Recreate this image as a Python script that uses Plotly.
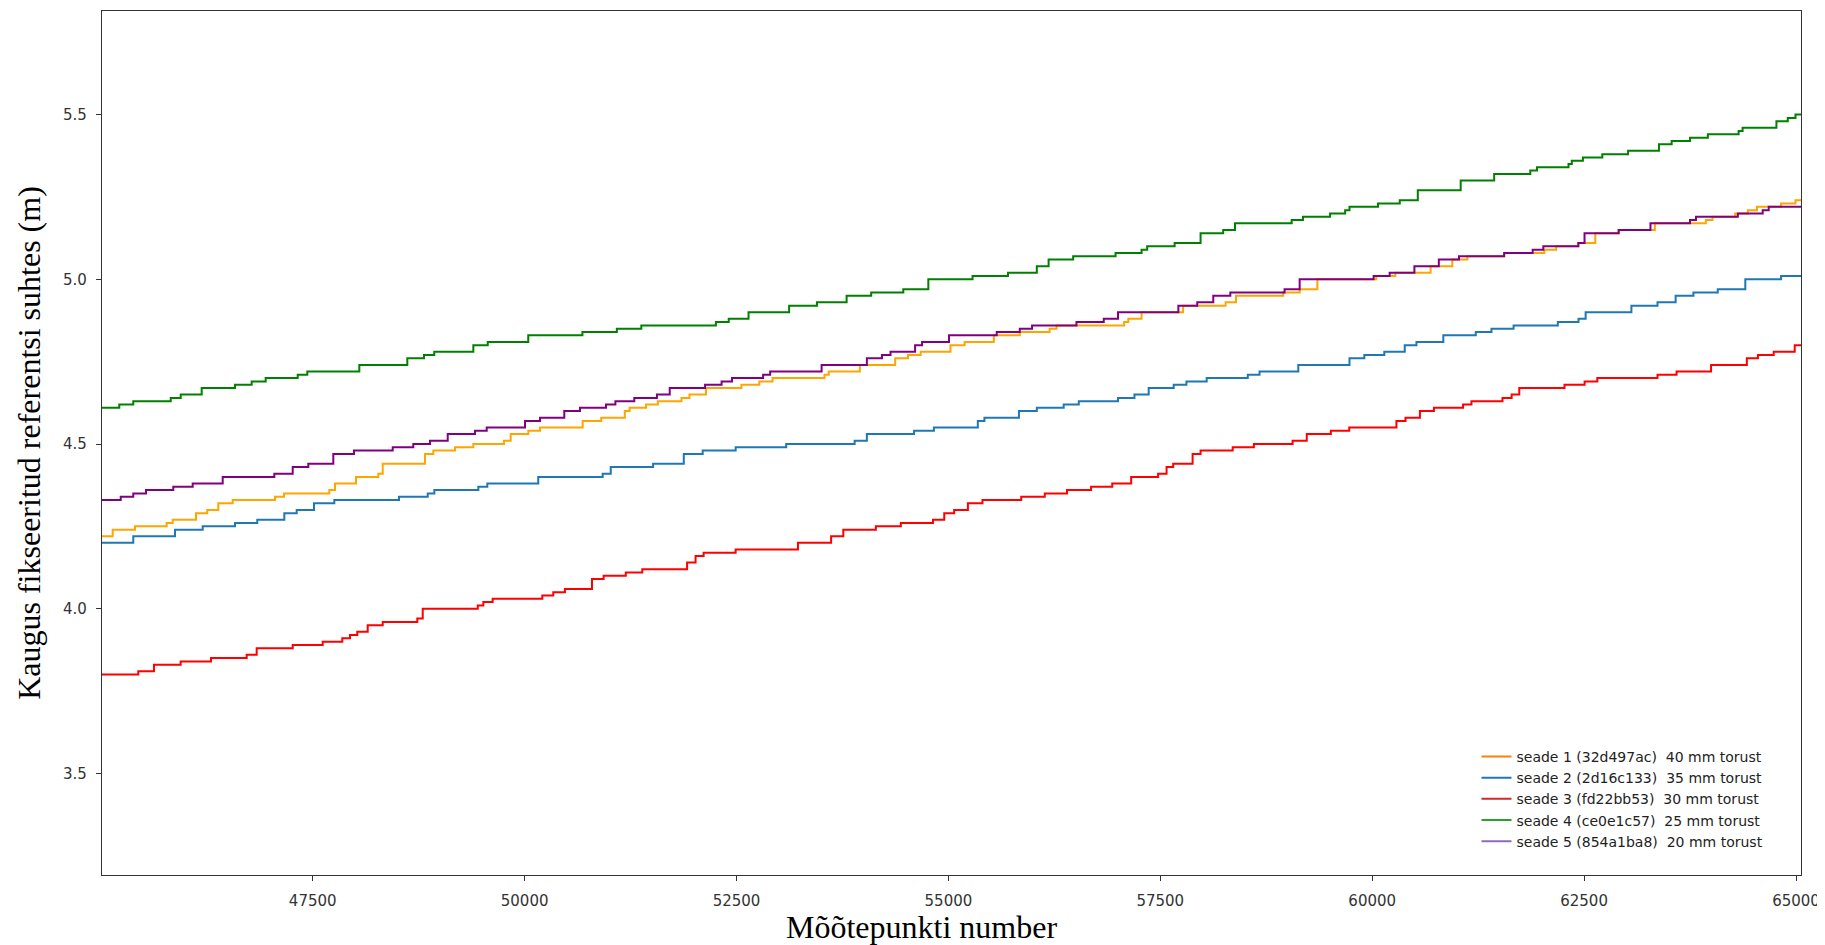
import plotly.graph_objects as go

# axis limits (data units)
x_lim = [45014, 65059]
y_lim = [3.1916, 5.8145]
x_ticks = [47500, 50000, 52500, 55000, 57500, 60000, 62500, 65000]
y_ticks = [3.5, 4.0, 4.5, 5.0, 5.5]

labels = [
    "seade 1 (32d497ac)\u00a0 40 mm torust",
    "seade 2 (2d16c133)\u00a0 35 mm torust",
    "seade 3 (fd22bb53)\u00a0 30 mm torust",
    "seade 4 (ce0e1c57)\u00a0 25 mm torust",
    "seade 5 (854a1ba8)\u00a0 20 mm torust",
]

# step start positions (x) and step values (y) for every series
s1_x = [45014, 45140, 45403, 45777, 45848, 46123, 46256, 46386, 46556, 47055, 47161, 47696, 47763, 48011,
        48274, 48326, 48825, 48923, 49179, 49395, 49757, 49836, 50044, 50182, 50685, 50904, 51182, 51239,
        51433, 51572, 51851, 51945, 52140, 52558, 52769, 52925, 53538, 53588, 53955, 54372, 54523, 54673,
        55024, 55191, 55536, 55842, 56194, 56276, 57073, 57123, 57279, 57769, 58270, 58393, 58950, 59145,
        59353, 60048, 60273, 60689, 60945, 61123, 61557, 62031, 62170, 62427, 62632, 62908, 63335, 63936,
        64015, 64283, 64432, 64540, 64824, 64994]
s1_y = [4.22, 4.24, 4.25, 4.26, 4.27, 4.29, 4.30, 4.32, 4.33, 4.34, 4.35, 4.36, 4.38, 4.40, 4.41, 4.44,
        4.47, 4.48, 4.49, 4.50, 4.51, 4.53, 4.54, 4.55, 4.57, 4.58, 4.60, 4.61, 4.62, 4.63, 4.64, 4.65,
        4.67, 4.68, 4.69, 4.70, 4.71, 4.72, 4.74, 4.76, 4.77, 4.78, 4.80, 4.81, 4.83, 4.84, 4.85, 4.86,
        4.87, 4.88, 4.90, 4.92, 4.93, 4.95, 4.96, 4.97, 5.00, 5.01, 5.02, 5.04, 5.06, 5.07, 5.08, 5.09,
        5.10, 5.11, 5.14, 5.15, 5.17, 5.18, 5.19, 5.20, 5.21, 5.22, 5.23, 5.24]

s2_x = [45014, 45383, 45875, 46202, 46583, 46846, 47165, 47311, 47515, 47755, 48518, 48857, 48935, 49454,
        49560, 50161, 50921, 51016, 51516, 51878, 52101, 52490, 53086, 53894, 54038, 54595, 54829, 55347,
        55425, 55832, 56043, 56360, 56538, 57001, 57195, 57363, 57658, 57808, 58047, 58532, 58671, 59128,
        59732, 59907, 60143, 60384, 60522, 60839, 61222, 61407, 61668, 62190, 62434, 62518, 63058, 63366,
        63580, 63790, 64077, 64402, 64824]
s2_y = [4.20, 4.22, 4.24, 4.25, 4.26, 4.27, 4.29, 4.30, 4.32, 4.33, 4.34, 4.35, 4.36, 4.37, 4.38, 4.40,
        4.41, 4.43, 4.44, 4.47, 4.48, 4.49, 4.50, 4.51, 4.53, 4.54, 4.55, 4.57, 4.58, 4.60, 4.61, 4.62,
        4.63, 4.64, 4.65, 4.67, 4.68, 4.69, 4.70, 4.71, 4.72, 4.74, 4.76, 4.77, 4.78, 4.80, 4.81, 4.83,
        4.84, 4.85, 4.86, 4.87, 4.88, 4.90, 4.92, 4.93, 4.95, 4.96, 4.97, 5.00, 5.01]

s3_x = [45014, 45442, 45627, 45942, 46300, 46721, 46839, 47264, 47618, 47849, 47940, 48026, 48149, 48326,
        48734, 48798, 49447, 49513, 49623, 50209, 50338, 50476, 50795, 50932, 51194, 51388, 51917, 52017,
        52112, 52490, 53225, 53616, 53760, 54144, 54439, 54818, 54951, 55068, 55230, 55402, 55859, 56137,
        56399, 56683, 56933, 57156, 57474, 57574, 57652, 57881, 57975, 58354, 58604, 59061, 59228, 59512,
        59729, 60286, 60393, 60563, 60728, 61072, 61171, 61537, 61645, 61735, 62269, 62506, 62656, 63366,
        63591, 63998, 64420, 64551, 64737, 64985]
s3_y = [3.80, 3.81, 3.83, 3.84, 3.85, 3.86, 3.88, 3.89, 3.90, 3.91, 3.92, 3.93, 3.95, 3.96, 3.97, 4.00,
        4.01, 4.02, 4.03, 4.04, 4.05, 4.06, 4.09, 4.10, 4.11, 4.12, 4.14, 4.16, 4.17, 4.18, 4.20, 4.22,
        4.24, 4.25, 4.26, 4.27, 4.29, 4.30, 4.32, 4.33, 4.34, 4.35, 4.36, 4.37, 4.38, 4.40, 4.41, 4.43,
        4.44, 4.47, 4.48, 4.49, 4.50, 4.51, 4.53, 4.54, 4.55, 4.57, 4.58, 4.60, 4.61, 4.62, 4.63, 4.64,
        4.65, 4.67, 4.68, 4.69, 4.70, 4.71, 4.72, 4.74, 4.76, 4.77, 4.78, 4.80]

s4_x = [45014, 45218, 45383, 45825, 45943, 46190, 46583, 46780, 46945, 47323, 47436, 48050, 48616, 48813,
        48934, 49395, 49565, 50043, 50682, 51088, 51377, 52257, 52408, 52642, 53121, 53449, 53799, 54089,
        54468, 54763, 55285, 55703, 56043, 56182, 56472, 56972, 57279, 57345, 57669, 57975, 58242, 58381,
        59050, 59183, 59503, 59681, 59732, 60068, 60325, 60538, 61044, 61439, 61865, 61944, 62316, 62355,
        62486, 62715, 63019, 63383, 63533, 63750, 63960, 64323, 64370, 64769, 64903, 64994]
s4_y = [4.61, 4.62, 4.63, 4.64, 4.65, 4.67, 4.68, 4.69, 4.70, 4.71, 4.72, 4.74, 4.76, 4.77, 4.78, 4.80,
        4.81, 4.83, 4.84, 4.85, 4.86, 4.87, 4.88, 4.90, 4.92, 4.93, 4.95, 4.96, 4.97, 5.00, 5.01, 5.02,
        5.04, 5.06, 5.07, 5.08, 5.09, 5.10, 5.11, 5.14, 5.15, 5.17, 5.18, 5.19, 5.20, 5.21, 5.22, 5.23,
        5.24, 5.27, 5.30, 5.32, 5.33, 5.34, 5.35, 5.36, 5.37, 5.38, 5.39, 5.41, 5.42, 5.43, 5.44, 5.45,
        5.46, 5.48, 5.49, 5.50]

s5_x = [45014, 45235, 45383, 45533, 45855, 46084, 46438, 47047, 47264, 47448, 47743, 47987, 48444, 48687,
        48884, 49093, 49415, 49553, 50005, 50182, 50468, 50653, 50960, 51071, 51294, 51561, 51712, 52129,
        52324, 52447, 52814, 52897, 53504, 54038, 54216, 54317, 54607, 54689, 55007, 55570, 55842, 55987,
        56511, 56833, 57001, 57713, 57936, 58125, 58326, 58966, 59144, 60017, 60206, 60498, 60786, 61024,
        61557, 61893, 62019, 62433, 62505, 62908, 63283, 63749, 63820, 64314, 64607, 64678]
s5_y = [4.33, 4.34, 4.35, 4.36, 4.37, 4.38, 4.40, 4.41, 4.43, 4.44, 4.47, 4.48, 4.49, 4.50, 4.51, 4.53,
        4.54, 4.55, 4.57, 4.58, 4.60, 4.61, 4.62, 4.63, 4.64, 4.65, 4.67, 4.68, 4.69, 4.70, 4.71, 4.72,
        4.74, 4.76, 4.77, 4.78, 4.80, 4.81, 4.83, 4.84, 4.85, 4.86, 4.87, 4.88, 4.90, 4.92, 4.93, 4.95,
        4.96, 4.97, 5.00, 5.01, 5.02, 5.04, 5.06, 5.07, 5.08, 5.09, 5.10, 5.11, 5.14, 5.15, 5.17, 5.18,
        5.19, 5.20, 5.21, 5.22]

series = [(s1_x, s1_y), (s2_x, s2_y), (s3_x, s3_y), (s4_x, s4_y), (s5_x, s5_y)]
line_colors = ["#FFA500", "#1f77b4", "#FF0000", "#008000", "#800080"]
legend_colors = ["#ff7f0e", "#1f77b4", "#d62728", "#2ca02c", "#9467bd"]

fig = go.Figure()
for (xs, ys), c, name in zip(series, line_colors, labels):
    fig.add_trace(go.Scatter(
        x=list(xs) + [x_lim[1]], y=list(ys) + [ys[-1]],
        mode="lines", line=dict(color=c, width=2, shape="hv"),
        name=name, showlegend=False, hoverinfo="x+y"))
for c, name in zip(legend_colors, labels):
    fig.add_trace(go.Scatter(x=[None], y=[None], mode="lines",
                             line=dict(color=c, width=2), name=name, showlegend=True))

axis_common = dict(showline=True, linecolor="#333333", linewidth=1.3, mirror=True,
                   ticks="outside", ticklen=5, tickcolor="#333333", tickwidth=1,
                   showgrid=False, zeroline=False, automargin=False,
                   tickfont=dict(family="DejaVu Sans", size=15, color="#333333"))

# the page body adds an 8px offset; the figure is sized so the plot lands where the reference has it
fig.update_layout(
    width=1817, height=937,
    margin=dict(l=94, r=24, t=3, b=70),
    paper_bgcolor="white", plot_bgcolor="white",
    xaxis=dict(range=x_lim, tickvals=x_ticks, ticktext=[str(v) for v in x_ticks],
               ticklabelstandoff=7, **axis_common),
    yaxis=dict(range=y_lim, tickvals=y_ticks, tickformat=".1f", ticklabelstandoff=6,
               title=dict(text="Kaugus fikseeritud referentsi suhtes (m)", standoff=12,
                          font=dict(family="Liberation Serif", size=32, color="black")),
               **axis_common),
    legend=dict(x=0.809, y=0.021, xanchor="left", yanchor="bottom",
                bgcolor="rgba(0,0,0,0)", borderwidth=0,
                font=dict(family="DejaVu Sans", size=14, color="#222222"),
                tracegroupgap=0),
    annotations=[dict(text="Mõõtepunkti number", xref="paper", yref="paper",
                      x=0.4826, y=-0.0605, xanchor="center", yanchor="middle",
                      showarrow=False,
                      font=dict(family="Liberation Serif", size=32, color="black"))],
)

fig.write_html("out.html")
